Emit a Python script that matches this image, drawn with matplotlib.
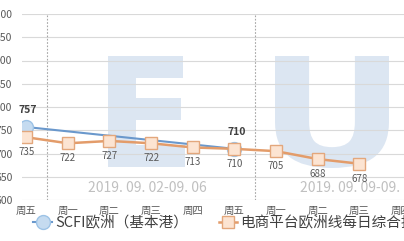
import numpy as np
import matplotlib.pyplot as plt
from matplotlib.font_manager import FontProperties
from matplotlib.textpath import TextPath
from matplotlib.patches import PathPatch
from matplotlib.transforms import Affine2D

plt.rcParams['font.family'] = ['Noto Sans CJK SC', 'DejaVu Sans']

# data
days = ['周五', '周一', '周二', '周三', '周四', '周五', '周一', '周二', '周三', '周四']
scfi = [757, None, None, None, None, 710, None, None, None, None]
ecom = [735, 722, 727, 722, 713, 710, 705, 688, 678, None]
yticks = [600, 650, 700, 750, 800, 850, 900, 950, 1000]
week_labels = ['2019. 09. 02-09. 06', '2019. 09. 09-09. 13']
scfi_name = 'SCFI欧洲（基本港）'
ecom_name = '电商平台欧洲线每日综合指数'

W, H = 404, 241
fig = plt.figure(figsize=(W / 100, H / 100), dpi=100)
ax = fig.add_axes([22 / W, 41 / H, (W - 22) / W, 186 / H])
ax.set_xlim(-0.1, 9.07)
ax.set_ylim(600, 1000)

# watermark letters "E" "U" (light blue), placed in pixel box of the figure
def watermark(ch, x0, y0, x1, y1):
    p = TextPath((0, 0), ch, size=1, prop=FontProperties(family='DejaVu Sans', weight='bold'))
    e = p.get_extents()
    tr = Affine2D().translate(-e.x0, -e.y0).scale((x1 - x0) / e.width / W, (y1 - y0) / e.height / H)
    tr = tr.translate(x0 / W, y0 / H) + fig.transFigure
    patch = PathPatch(p, transform=tr, facecolor='#dce6f2', edgecolor='none', zorder=0.1)
    patch.set_clip_on(False)
    ax.add_artist(patch)

watermark('E', 108, H - 167, 185, H - 56)
watermark('U', 275, H - 168, 389, H - 56)

ax.set_facecolor('none')
ax.set_yticks(yticks)
ax.grid(axis='y', color='#d9d9d9', linewidth=0.8)
ax.set_axisbelow(True)
for s in ax.spines.values():
    s.set_visible(False)
ax.tick_params(length=0, labelsize=7.5, labelcolor='#595959')
ax.tick_params(axis='y', pad=7)
ax.tick_params(axis='x', pad=4)
ax.set_xticks(range(len(days)))
ax.set_xticklabels(days)

# week separators
for xv in [0.5, 5.5]:
    ax.axvline(xv, color='#a6a6a6', linestyle=(0, (1.5, 1.5)), linewidth=0.8, zorder=1)

# week text
ax.text(2.9, 626, week_labels[0], color='#c0c0c0', fontsize=10, ha='center', va='center', zorder=2)
ax.text(6.58, 625, week_labels[1], color='#c0c0c0', fontsize=10, ha='left', va='center', zorder=2)

sx = [i for i, v in enumerate(scfi) if v is not None]
sy = [v for v in scfi if v is not None]
ex = [i for i, v in enumerate(ecom) if v is not None]
ey = [v for v in ecom if v is not None]

l1, = ax.plot(sx, sy, color='#6a98cc', linewidth=1.5, marker='o', markersize=10,
              markerfacecolor='#c5dbf0', markeredgecolor='#9dc3e6', zorder=3)
l2, = ax.plot(ex, ey, color='#e39c6a', linewidth=1.8, marker='s', markersize=9,
              markerfacecolor='#fce4d2', markeredgecolor='#e3a77c', zorder=4)

for xi, v in zip(ex, ey):
    ax.annotate(str(v), (xi, v), xytext=(0, -15), textcoords='offset pixels',
                ha='center', va='center', fontsize=7, color='#595959', zorder=5)
for xi, v in zip(sx, sy):
    ax.annotate(str(v), (xi, v), xytext=(2, 17), textcoords='offset pixels',
                ha='center', va='center', fontsize=7.5, fontweight='bold', color='#404040', zorder=5)

fig.legend([l1, l2], [scfi_name, ecom_name], loc='lower left', bbox_to_anchor=(20 / W, -0.01),
           ncol=2, frameon=False, fontsize=10.5, handlelength=1.3, handletextpad=0.2,
           columnspacing=2.1, labelcolor='#404040')

fig.savefig('out.png', dpi=100)
